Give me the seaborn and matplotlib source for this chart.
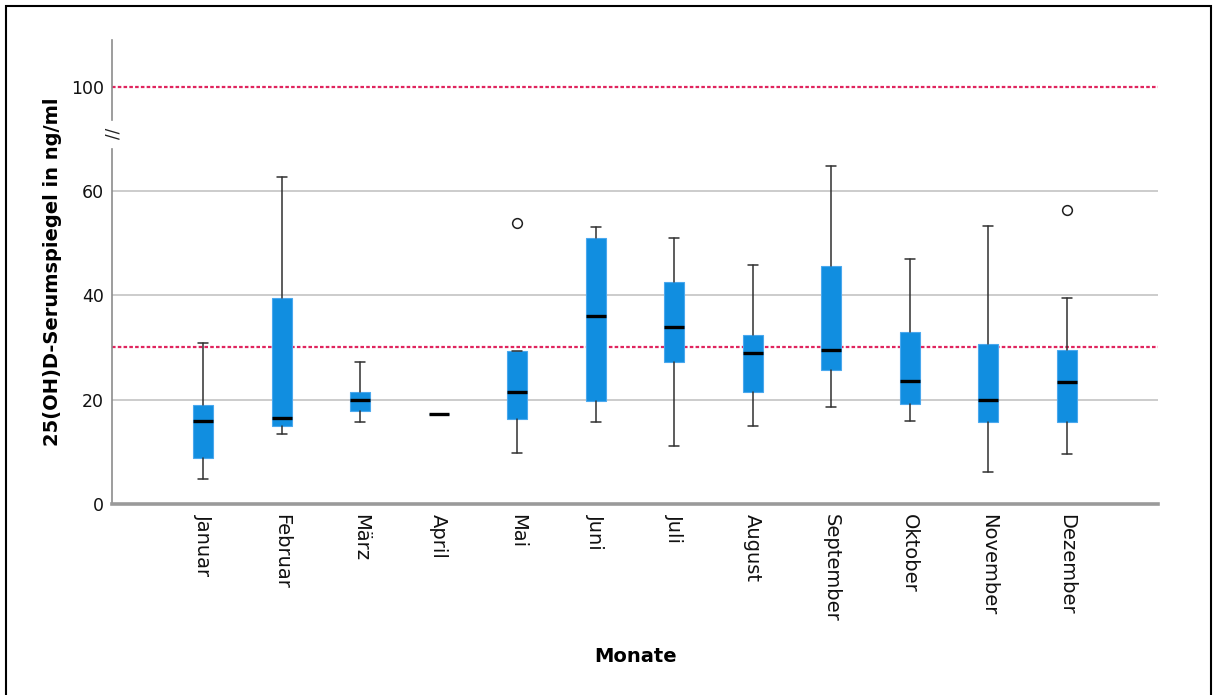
import matplotlib
matplotlib.use("Agg")
import matplotlib.pyplot as plt
import matplotlib.patches as mpatches
import seaborn as sns
import numpy as np

# ---- data ----
months = ["Januar", "Februar", "März", "April", "Mai", "Juni", "Juli",
          "August", "September", "Oktober", "November", "Dezember"]
whisker_low = [4.7, 13.4, 15.7, 17.3, 9.8, 15.8, 11.2, 15.0, 18.5, 16.0, 6.1, 9.5]
q1          = [8.9, 15.0, 17.8, 17.3, 16.2, 19.7, 27.2, 21.5, 25.6, 19.2, 15.8, 15.8]
median      = [16.0, 16.5, 19.9, 17.3, 21.5, 36.1, 33.9, 29.0, 29.5, 23.6, 20.0, 23.3]
q3          = [18.9, 39.5, 21.4, 17.3, 29.4, 50.9, 42.6, 32.4, 45.6, 33.0, 30.7, 29.6]
whisker_high = [30.9, 62.7, 27.2, 17.3, 29.4, 53.1, 50.9, 45.8, 64.8, 47.0, 53.2, 39.4]
outliers    = [[], [], [], [], [53.8], [], [], [], [], [], [], [56.4]]
reference_lines = [30, 100]
y_ticks_lower = [0, 20, 40, 60]
y_ticks_upper = [100]

sns.set_style("white")
plt.rcParams["font.family"] = ["DejaVu Sans"]
plt.rcParams["text.color"] = "black"

fig = plt.figure(figsize=(12.15, 6.95), dpi=100)
W, H = 1215, 695

def ax_rect(l, r, t, b):
    return [l / W, 1 - b / H, (r - l) / W, (b - t) / H]

ax = fig.add_axes(ax_rect(112, 1158, 149, 504))
ax_up = fig.add_axes(ax_rect(112, 1158, 40, 120))

stats = []
for i, m in enumerate(months):
    stats.append(dict(label=m, whislo=whisker_low[i], q1=q1[i], med=median[i],
                      q3=q3[i], whishi=whisker_high[i], fliers=outliers[i]))

box_color = "#118ee0"
positions = np.arange(len(months))

for a in (ax, ax_up):
    a.bxp(stats, positions=positions, widths=0.255, patch_artist=True,
          showfliers=True,
          boxprops=dict(facecolor=box_color, edgecolor="#4aa8ee", linewidth=0.8),
          medianprops=dict(color="black", linewidth=2.4, solid_capstyle="butt"),
          whiskerprops=dict(color="#303030", linewidth=1.1),
          capprops=dict(color="#303030", linewidth=1.1),
          flierprops=dict(marker="o", markerfacecolor="white",
                          markeredgecolor="#202020", markersize=7,
                          markeredgewidth=1.1),
          zorder=3)

# grid + reference lines
for y in y_ticks_lower[1:]:
    ax.axhline(y, color="#c4c4c4", linewidth=1.2, zorder=1)
for a in (ax, ax_up):
    for y in reference_lines:
        a.axhline(y, color="#e0245e", linewidth=1.6, linestyle=(0, (1.6, 1.0)),
                  zorder=2)

ax.set_xlim(-1.16, len(months) - 1 + 1.16)
ax_up.set_xlim(ax.get_xlim())
ax.set_ylim(0, 68.05)
ax_up.set_ylim(93.67, 109.0)

ax.set_yticks(y_ticks_lower)
ax_up.set_yticks(y_ticks_upper)
ax.set_xticks(positions)
ax.set_xticklabels(months, rotation=270, ha="center", va="top", fontsize=14,
                   color="#111111")
ax_up.set_xticks([])

for a in (ax, ax_up):
    a.tick_params(axis="y", length=0, pad=6, labelsize=12.5, labelcolor="#111111")
    a.tick_params(axis="x", length=0, pad=7)
    for s in ("top", "right"):
        a.spines[s].set_visible(False)
    a.spines["left"].set_color("#8c8c8c")
    a.spines["left"].set_linewidth(1.2)
    a.set_facecolor("none")
ax_up.spines["bottom"].set_visible(False)
ax.spines["bottom"].set_color("#9a9a9a")
ax.spines["bottom"].set_linewidth(2.6)

# axis break marker
fig.text(113 / W, 1 - 133 / H, "//", rotation=90, ha="center", va="center",
         fontsize=12, color="#222222")

# labels
fig.text(53 / W, 1 - 272 / H, "25(OH)D-Serumspiegel in ng/ml", rotation=90,
         ha="center", va="center", fontsize=14, fontweight="bold", color="black")
fig.text(636 / W, 1 - 657 / H, "Monate", ha="center", va="center",
         fontsize=14, fontweight="bold", color="black")

# outer frame
frame = mpatches.Rectangle((6 / W, -0.05), (1211 - 6) / W, 1.05 - 6 / H,
                           transform=fig.transFigure, fill=False,
                           edgecolor="black", linewidth=1.5, clip_on=False)
fig.patches.append(frame)

fig.savefig("out.png", dpi=100)
